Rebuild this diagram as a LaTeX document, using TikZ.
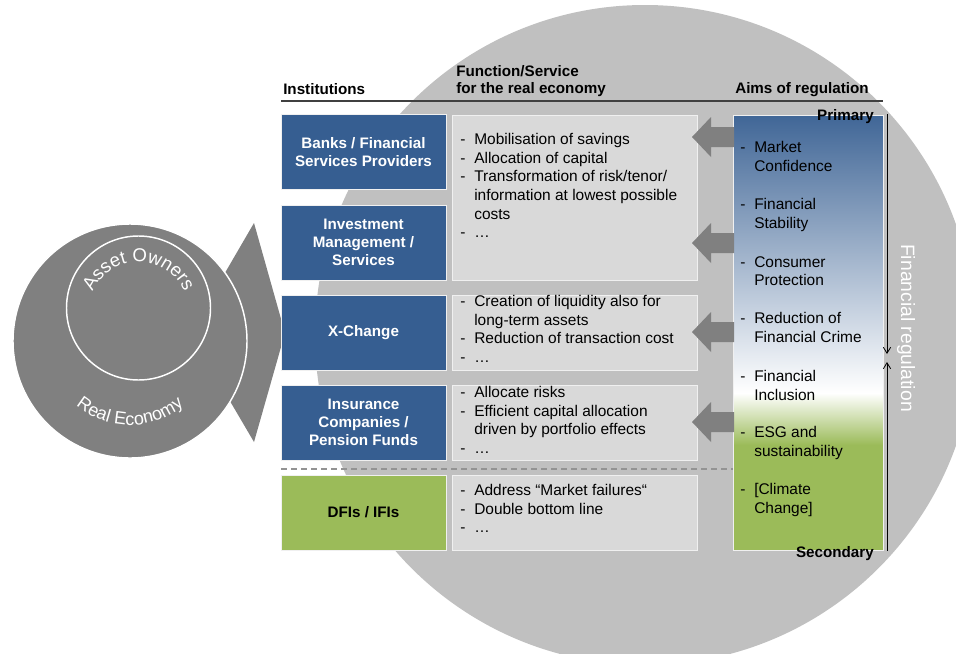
\documentclass[tikz,border=0pt]{standalone}
\usepackage{fontspec}
\setmainfont{Liberation Sans}
\usetikzlibrary{decorations.text,arrows.meta,shapes.geometric}
\definecolor{blueb}{RGB}{54,94,145}
\definecolor{greenb}{RGB}{155,187,89}
\definecolor{lgrey}{RGB}{217,217,217}
\definecolor{bigc}{RGB}{192,192,192}
\definecolor{dgrey}{RGB}{128,128,128}
\definecolor{hdr}{RGB}{64,64,64}
\definecolor{bord}{RGB}{240,240,240}
\newcommand\itm[1]{\makebox[10.5pt][l]{-}#1}
\newcommand\cnt[1]{\hspace*{10.5pt}#1}
\begin{document}
\begin{tikzpicture}[x=0.75pt,y=-0.75pt,
  txt/.style={font=\fontsize{11.6}{14}\selectfont},
  bluebox/.style={draw=bord, line width=0.6pt, fill=blueb, text=white,
     font=\bfseries\fontsize{11.4}{13.4}\selectfont, align=center,
     minimum width=123.75pt, minimum height=56.25pt, inner sep=0pt},
  greenbox/.style={bluebox, fill=greenb, text=black},
  greybox/.style={draw=bord, line width=0.6pt, fill=lgrey,
     minimum width=183.75pt, minimum height=56.25pt, inner sep=0pt},
  list/.style={txt, anchor=north west, align=left, inner sep=0pt},
  head/.style={font=\bfseries\fontsize{11.4}{13}\selectfont, inner sep=0pt},
  barrow/.style={fill=dgrey},
  vline/.style={line width=0.6pt, -{Straight Barb[length=4.5pt,width=5.5pt]}},
  curvetxt/.style={decorate, decoration={text along path, text align=center,
     text color=white}}
]
\useasboundingbox (0,0) rectangle (956,653);
\begin{scope}
\clip (0,0) rectangle (956,653);
% big background circle
\fill[bigc] (645,335) circle [radius=247.5pt];
\end{scope}

% chevron and real economy circle
\fill[dgrey] (254,223) -- (285,333) -- (254,442) -- (190,333) -- cycle;
\node[circle, fill=dgrey, draw=white, line width=1.1pt, minimum size=175.5pt, inner sep=0pt] (re) at (130,341) {};
\node[circle, draw=white, line width=1.1pt, minimum size=108pt, inner sep=0pt] (ao) at (138.5,308) {};
\path[curvetxt, decoration={text={|\fontsize{14}{14}\selectfont|Asset Owners}}]
  (138.5,312) ++(160:37.5pt) arc [start angle=160, end angle=20, radius=37.5pt];
\path[curvetxt, decoration={text={|\fontsize{13.5}{13.5}\selectfont|Real Economy}}]
  (130,341) ++(215:63pt) arc [start angle=215, end angle=325, radius=63pt];

% header
\node[head, anchor=base west] (hinst) at (283,94) {Institutions};
\node[head, anchor=north west, align=left] (hfunc) at (456,65) {Function/Service\\for the real economy};
\node[head, anchor=base west] (haims) at (735,93) {Aims of regulation};
\draw[hdr, line width=1.1pt] (281,101) -- (883,101);

% institution boxes
\node[bluebox] (banks) at (363.5,152) {Banks / Financial\\Services Providers};
\node[bluebox] (inv) at (363.5,242.5) {Investment\\Management /\\Services};
\node[bluebox] (xch) at (363.5,332.5) {X-Change};
\node[bluebox] (ins) at (363.5,422.5) {Insurance\\Companies /\\Pension Funds};
\node[greenbox] (dfi) at (363.5,512.5) {DFIs / IFIs};

% function boxes
\node[greybox, minimum height=123.75pt] (f1) at (574.5,197.5) {};
\node[greybox] (f2) at (574.5,332.5) {};
\node[greybox] (f3) at (574.5,422.5) {};
\node[greybox] (f4) at (574.5,512.5) {};
\node[list] (t1) at (460,133) {\itm{Mobilisation of savings}\\\itm{Allocation of capital}\\\itm{Transformation of risk/tenor/}\\\cnt{information at lowest possible}\\\cnt{costs}\\\itm{…}};
\node[list] (t2) at (460,295) {\itm{Creation of liquidity also for}\\\cnt{long-term assets}\\\itm{Reduction of transaction cost}\\\itm{…}};
\node[list] (t3) at (460,386) {\itm{Allocate risks}\\\itm{Efficient capital allocation}\\\cnt{driven by portfolio effects}\\\itm{…}};
\node[list] (t4) at (460,484) {\itm{Address “Market failures“}\\\itm{Double bottom line}\\\itm{…}};

% dashed separator
\draw[gray!85, line width=0.8pt, dash pattern=on 4.5pt off 3pt] (281,469) -- (735,469);

% aims box
\shade[top color=blueb!95!white, bottom color=white] (733,115) rectangle (883,393);
\shade[top color=white, bottom color=greenb] (733,393) rectangle (883,445);
\fill[greenb] (733,445) rectangle (883,550);
\node[draw=bord, line width=0.6pt, minimum width=112.5pt, minimum height=326.25pt, inner sep=0pt] (aims) at (808,332.5) {};
\node[list] (a1) at (740,141) {\itm{Market}\\\cnt{Confidence}};
\node[list] (a2) at (740,198) {\itm{Financial}\\\cnt{Stability}};
\node[list] (a3) at (740,256) {\itm{Consumer}\\\cnt{Protection}};
\node[list] (a4) at (740,312) {\itm{Reduction of}\\\cnt{Financial Crime}};
\node[list] (a5) at (740,370) {\itm{Financial}\\\cnt{Inclusion}};
\node[list] (a6) at (740,426) {\itm{ESG and}\\\cnt{sustainability}};
\node[list] (a7) at (740,483) {\itm{[Climate}\\\cnt{Change]}};
\node[head, anchor=base east] (prim) at (874,120) {Primary};
\node[head, anchor=base east] (sec) at (874,557) {Secondary};

% block arrows
\foreach \c in {137,243,332,422}{
  \fill[barrow] (692,\c) -- (711,{\c-20}) -- (711,{\c-10}) -- (734,{\c-10}) -- (734,{\c+10}) -- (711,{\c+10}) -- (711,{\c+20}) -- cycle;
}

% vertical arrows
\coordinate (d1) at (887,114);
\coordinate (d2) at (887,354);
\coordinate (u1) at (887,551);
\coordinate (u2) at (887,362);
\draw[vline] (d1) -- (d2);
\draw[vline] (u1) -- (u2);

\node[text=white, rotate=-90, font=\fontsize{14.5}{15}\selectfont, inner sep=0pt] (freg) at (906,328) {Financial regulation};
\end{tikzpicture}
\end{document}
